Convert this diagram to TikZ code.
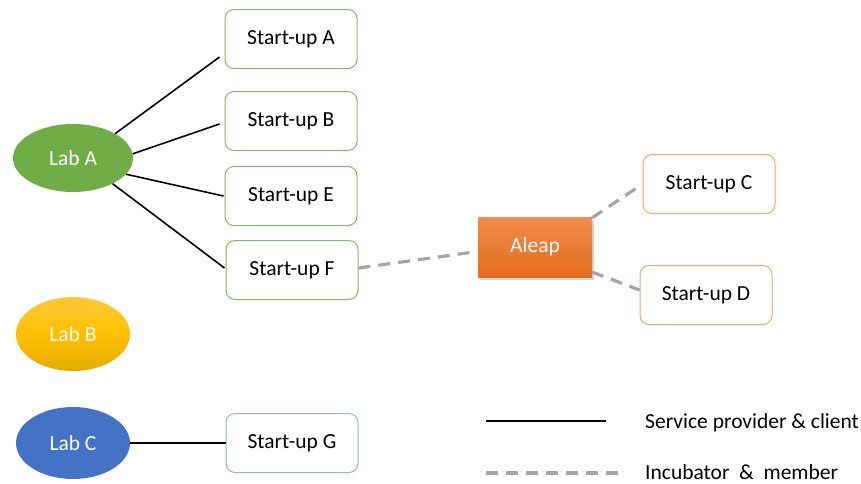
\documentclass[tikz,border=0pt]{standalone}
\usepackage{fontspec}
\setmainfont{Carlito}
\usetikzlibrary{shapes.geometric,shadows}
\definecolor{cgreen}{HTML}{70AD47}
\definecolor{cblue}{HTML}{4472C4}
\definecolor{cgold}{HTML}{FFC000}
\definecolor{goldtop}{HTML}{FFC93A}
\definecolor{goldbot}{HTML}{E5AC00}
\definecolor{corange}{HTML}{ED7D31}
\definecolor{orangetop}{HTML}{F18D4E}
\definecolor{orangebot}{HTML}{E46C1C}
\definecolor{borange}{HTML}{F4A46C}
\definecolor{bblue}{HTML}{8DB8E3}
\definecolor{cgray}{HTML}{A5A5A5}
\tikzset{
  lab/.style={ellipse, minimum width=#1, text=white, font=\fontsize{21.5}{25}\selectfont, inner sep=0pt},
  sbox/.style={draw=#1, line width=1pt, rounded corners=9pt, minimum width=132pt, minimum height=59pt, fill=white, font=\fontsize{21.5}{25}\selectfont, inner sep=0pt},
  solidlink/.style={line width=1.6pt, black},
  dashlink/.style={line width=3.2pt, cgray, dash pattern=on 12pt off 8pt},
}
\begin{document}
\begin{tikzpicture}[x=1pt,y=-1pt]
\useasboundingbox (0,0) rectangle (861,483);
% labs
\node[lab=120pt, minimum height=68pt, fill=cgreen] (labA) at (73,158) {Lab A};
\node[lab=114pt, minimum height=74pt, top color=goldtop, bottom color=goldbot, middle color=cgold] (labB) at (73,334) {Lab B};
\node[lab=114pt, minimum height=72pt, fill=cblue] (labC) at (73,443) {Lab C};
% start-ups
\node[sbox=cgreen!85!white] (sA) at (291,39) {Start-up A};
\node[sbox=cgreen!85!white] (sB) at (291,121) {Start-up B};
\node[sbox=cgreen!85!white] (sE) at (291,196) {Start-up E};
\node[sbox=cgreen!85!white] (sF) at (292,270) {Start-up F};
\node[sbox=bblue] (sG) at (292,443) {Start-up G};
\node[sbox=borange] (sC) at (709,184) {Start-up C};
\node[sbox=borange] (sD) at (706,295) {Start-up D};
% Aleap
\node[minimum width=114pt, minimum height=60pt, inner sep=0pt, top color=orangetop, bottom color=orangebot, drop shadow={shadow xshift=2pt, shadow yshift=-3pt, opacity=0.35}, text=white, font=\fontsize{21.5}{25}\selectfont] (aleap) at (535,247) {Aleap};
% solid links
\draw[solidlink] (labA.30) -- ([shift={(-5,18)}]sA.west);
\draw[solidlink] (labA.4) -- ([shift={(-5,3)}]sB.west);
\draw[solidlink] (labA.-17) -- ([shift={(-1,0)}]sE.west);
\draw[solidlink] (labA.-33) -- ([shift={(-1,-2)}]sF.west);
\draw[solidlink] (labC.east) -- (sG.west);
% dashed links
\draw[dashlink] ([shift={(0,-2)}]sF.east) -- ([shift={(-4,5)}]aleap.west);
\draw[dashlink] ([shift={(0,1)}]aleap.north east) -- ([shift={(-6,4)}]sC.west);
\draw[dashlink] ([shift={(0,25)}]aleap.east) -- ([shift={(0,-5)}]sD.west);
% legend
\coordinate (l1a) at (486,421);
\coordinate (l1b) at (606,421);
\coordinate (l2a) at (486,473);
\coordinate (l2b) at (618,473);
\draw[solidlink] (l1a) -- (l1b);
\draw[dashlink] (l2a) -- (l2b);
\node[anchor=west, inner sep=0pt, font=\fontsize{21.5}{25}\selectfont] (t1) at (645,423) {Service provider \& client};
\node[anchor=west, inner sep=0pt, font=\fontsize{21.5}{25}\selectfont] (t2) at (645,472) {Incubator\ \ \&\ \ member};
\end{tikzpicture}
\end{document}
